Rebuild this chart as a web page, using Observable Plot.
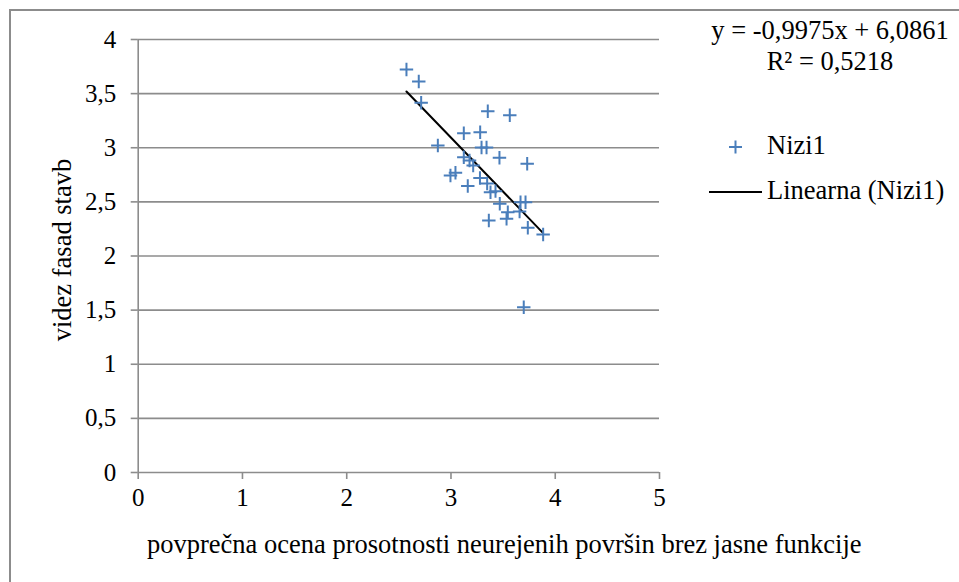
<!DOCTYPE html>
<html>
<head>
<meta charset="utf-8">
<script src="https://cdn.jsdelivr.net/npm/d3@7"></script>
<script src="https://cdn.jsdelivr.net/npm/@observablehq/plot@0.6"></script>
<style>
  html, body { margin: 0; padding: 0; background: #fff; }
  #wrap { position: relative; width: 959px; height: 582px; overflow: hidden; font-family: "Liberation Serif", "Times New Roman", serif; }
  #border { position: absolute; left: 9px; top: 9px; width: 1000px; height: 1000px; border-left: 2px solid #8c8c8c; border-top: 2px solid #8c8c8c; box-sizing: border-box; }
  #overlay { position: absolute; left: 0; top: 0; }
  #chart { position: absolute; left: 0; top: 0; }
</style>
</head>
<body>
<div id="wrap">
  <div id="border"></div>
  <div id="chart"></div>
  <svg id="overlay" width="959" height="582" style="font-family: 'Liberation Serif', 'Times New Roman', serif; font-size: 26.5px;">
    <text x="830" y="39" text-anchor="middle">y = -0,9975x + 6,0861</text>
    <text x="830" y="70" text-anchor="middle">R² = 0,5218</text>
    <path d="M729,147H742M735.5,140.5V153.5" stroke="#4a7ebb" stroke-width="2" fill="none"/>
    <text x="767" y="154">Nizi1</text>
    <line x1="709" y1="192" x2="762" y2="192" stroke="#000" stroke-width="2"/>
    <text x="767" y="199">Linearna (Nizi1)</text>
    <text x="147" y="553">povprečna ocena prosotnosti neurejenih površin brez jasne funkcije</text>
    <text transform="translate(71,250) rotate(-90)" text-anchor="middle">videz fasad stavb</text>
  </svg>
</div>
<script>
// Data
const xValues = [2.573, 2.691, 2.714, 3.353, 3.564, 3.123, 3.280, 2.874, 3.293, 3.341,
                 3.123, 3.465, 3.731, 3.178, 3.213, 2.995, 3.043, 3.161, 3.278, 3.347,
                 3.379, 3.427, 3.468, 3.545, 3.667, 3.715, 3.658, 3.363, 3.533, 3.737,
                 3.884, 3.698];
const yValues = [3.723, 3.612, 3.416, 3.338, 3.301, 3.134, 3.144, 3.021, 3.002, 3.002,
                 2.913, 2.907, 2.852, 2.882, 2.836, 2.744, 2.769, 2.647, 2.721, 2.670,
                 2.589, 2.599, 2.482, 2.405, 2.497, 2.497, 2.411, 2.328, 2.344, 2.261,
                 2.199, 1.527];
const xTicks = [0, 1, 2, 3, 4, 5];
const yTicks = [0, 0.5, 1, 1.5, 2, 2.5, 3, 3.5, 4];
const slope = -0.9975;
const intercept = 6.0861;

const points = xValues.map((x, i) => ({x, y: yValues[i]}));
const xMin = d3.min(xValues), xMax = d3.max(xValues);
const trend = [xMin, xMax].map(x => ({x, y: slope * x + intercept}));
const comma = d => String(d).replace(".", ",");
const grid = "#8c8c8c";

const plot = Plot.plot({
  width: 959,
  height: 582,
  marginLeft: 137.7,
  marginRight: 300,
  marginTop: 39,
  marginBottom: 110,
  style: {fontFamily: "'Liberation Serif', 'Times New Roman', serif", fontSize: "25px", background: "transparent", color: "#000"},
  x: {domain: [0, 5]},
  y: {domain: [0, 4]},
  marks: [
    Plot.ruleY(yTicks, {stroke: grid, strokeWidth: 1.6}),
    Plot.ruleX([0], {stroke: grid, strokeWidth: 1.6}),
    Plot.axisY({ticks: yTicks, tickSize: 7, tickPadding: 15, tickFormat: comma, stroke: grid, strokeWidth: 1.6, fill: "#000", label: null}),
    Plot.axisX({ticks: xTicks, tickSize: 7, tickPadding: 9, tickFormat: comma, stroke: grid, strokeWidth: 1.6, fill: "#000", label: null}),
    Plot.line(trend, {x: "x", y: "y", stroke: "#000", strokeWidth: 2}),
    Plot.dot(points, {x: "x", y: "y", symbol: "plus", r: 4.4, stroke: "#4a7ebb", strokeWidth: 2})
  ]
});
document.getElementById("chart").appendChild(plot);
</script>
</body>
</html>
